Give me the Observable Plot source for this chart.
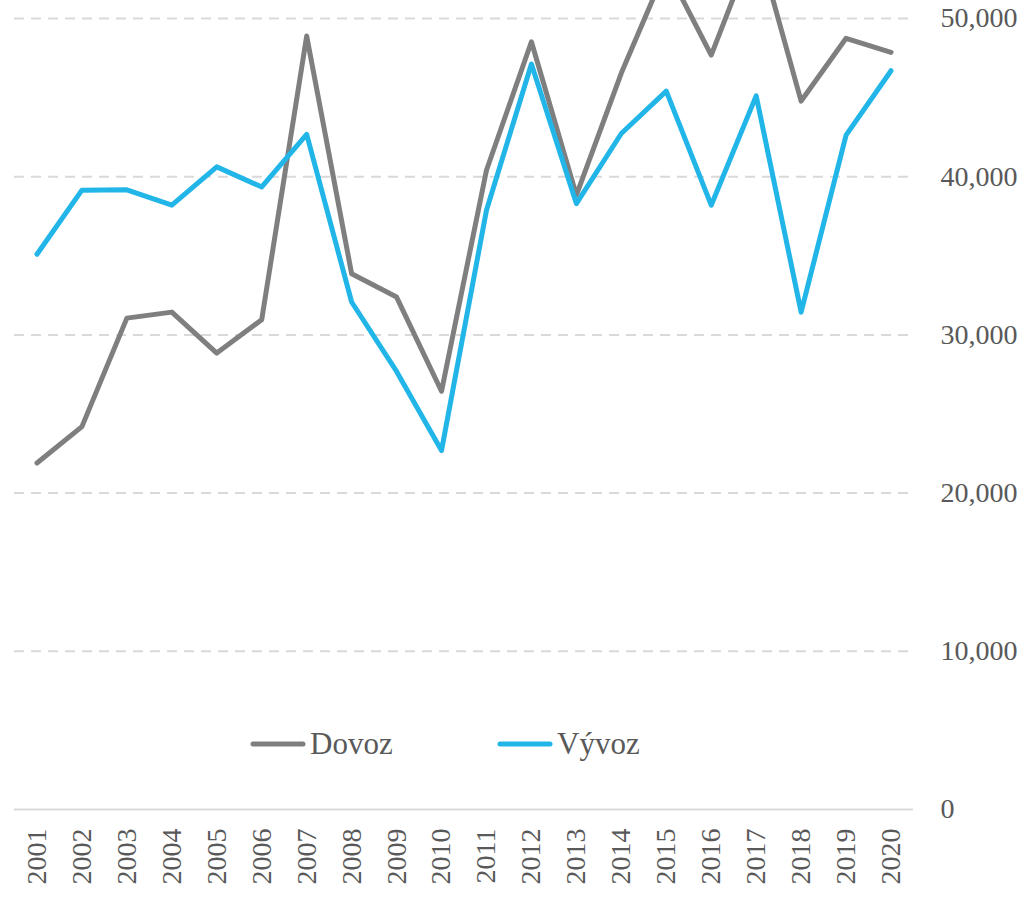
<!DOCTYPE html>
<html>
<head>
<meta charset="utf-8">
<script src="https://cdn.jsdelivr.net/npm/d3@7"></script>
<script src="https://cdn.jsdelivr.net/npm/@observablehq/plot@0.6"></script>
<style>
  html, body { margin: 0; padding: 0; background: #fff; }
  #wrap { position: relative; width: 1030px; height: 900px; overflow: hidden; }
  #legend { position: absolute; left: 0; top: 0; width: 1030px; height: 900px; pointer-events: none; }
  .lg { position: absolute; display: flex; align-items: center; font-family: "Liberation Serif", serif; font-size: 31px; color: #595959; }
  .lg svg { display: block; margin-right: 4px; }
</style>
</head>
<body>
<div id="wrap">
  <div id="chart"></div>
  <div id="legend"></div>
</div>
<script>
const years = ["2001","2002","2003","2004","2005","2006","2007","2008","2009","2010",
               "2011","2012","2013","2014","2015","2016","2017","2018","2019","2020"];
const seriesNames = ["Dovoz", "Vývoz"];
const seriesColors = ["#7f7f7f", "#21b5e8"];
const dovoz = [21900, 24200, 31060, 31440, 28850, 30960, 48890, 33870, 32390, 26440,
               40410, 48530, 38830, 46550, 53200, 47690, 55000, 44780, 48750, 47860];
const vyvoz = [35100, 39150, 39170, 38200, 40620, 39350, 42670, 32080, 27690, 22690,
               37880, 47120, 38300, 42730, 45410, 38200, 45110, 31440, 42630, 46700];
const yTicks = [0, 10000, 20000, 30000, 40000, 50000];

const data = [];
years.forEach((y, i) => {
  data.push({year: y, series: seriesNames[0], value: dovoz[i]});
  data.push({year: y, series: seriesNames[1], value: vyvoz[i]});
});

const chart = Plot.plot({
  width: 1030,
  height: 900,
  marginTop: 18,
  marginBottom: 91,
  marginLeft: 14,
  marginRight: 117,
  style: { fontFamily: "Liberation Serif, serif", fontSize: "28px", color: "#595959", background: "#fff", overflow: "hidden" },
  x: { type: "point", domain: years, padding: 0.5, round: false },
  y: { domain: [0, 50000] },
  color: { domain: seriesNames, range: seriesColors },
  marks: [
    Plot.gridY(yTicks.filter(d => d > 0), { stroke: "#d9d9d9", strokeOpacity: 1, strokeWidth: 2, strokeDasharray: "10,7" }),
    Plot.ruleY([0], { stroke: "#d9d9d9", strokeWidth: 2 }),
    Plot.axisY({ anchor: "right", ticks: yTicks, tickSize: 0, tickPadding: 27, textAnchor: "start", tickFormat: d3.format(","), label: null, fill: "#595959" }),
    Plot.axisX({ tickRotate: -90, tickSize: 0, tickPadding: 19, label: null, fill: "#595959" }),
    Plot.line(data, { x: "year", y: "value", z: "series", stroke: "series", strokeWidth: 5, strokeLinejoin: "round", strokeLinecap: "round" })
  ]
});
document.getElementById("chart").appendChild(chart);

// Legend
const legendPos = [{left: 250, top: 726}, {left: 497, top: 726}];
const legend = document.getElementById("legend");
seriesNames.forEach((name, i) => {
  const item = document.createElement("div");
  item.className = "lg";
  item.style.left = legendPos[i].left + "px";
  item.style.top = legendPos[i].top + "px";
  item.innerHTML = `<svg width="56" height="10"><line x1="3" y1="5" x2="53" y2="5" stroke="${seriesColors[i]}" stroke-width="5" stroke-linecap="round"/></svg><span>${name}</span>`;
  legend.appendChild(item);
});
</script>
</body>
</html>
